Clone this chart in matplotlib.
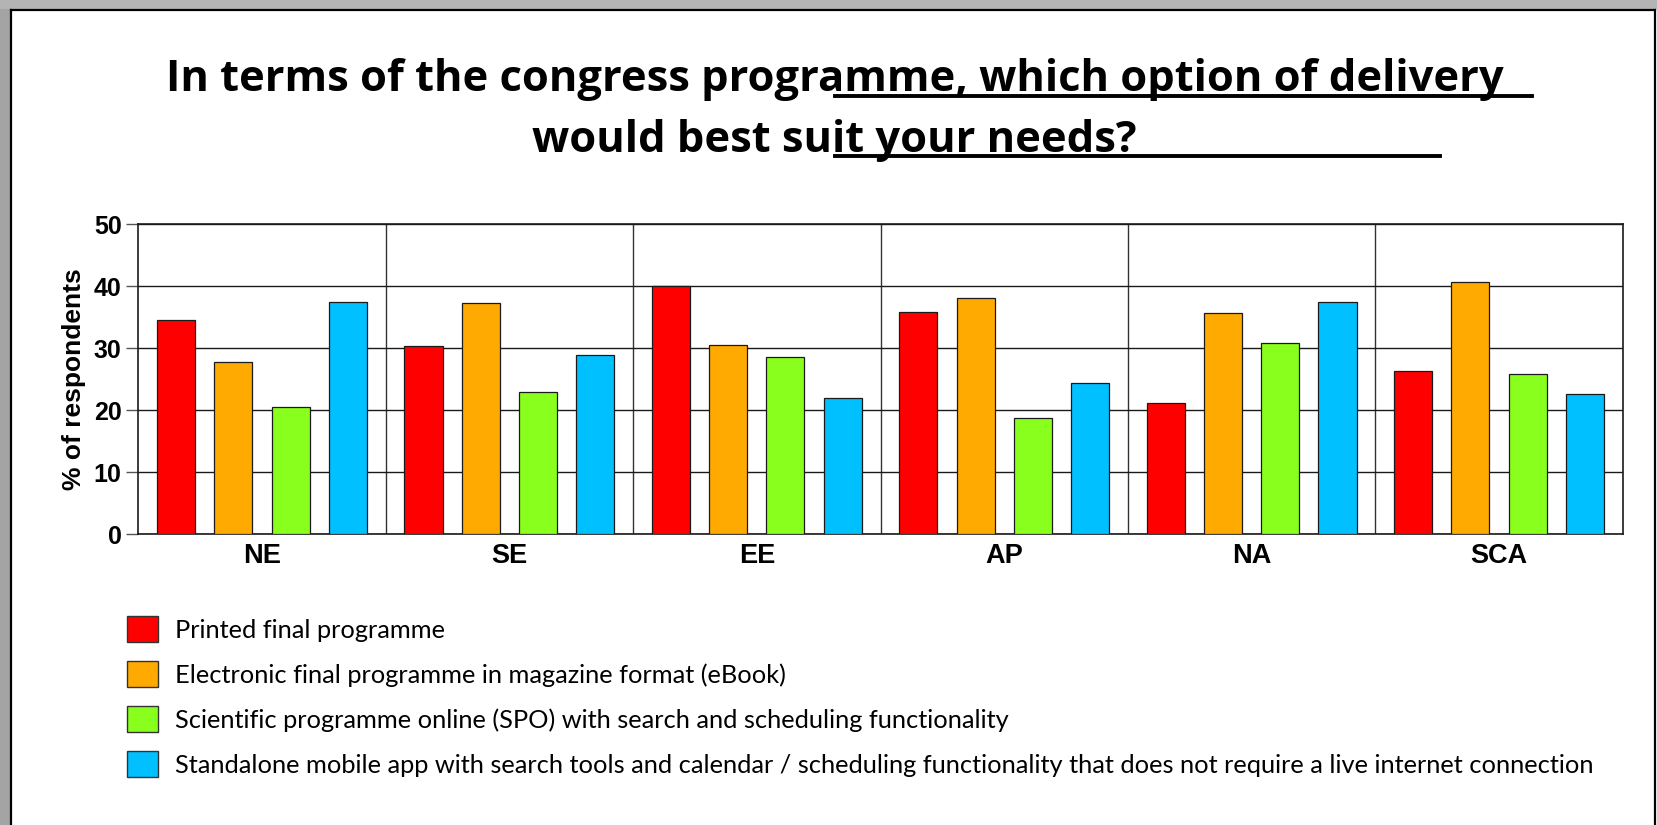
import matplotlib
matplotlib.use("Agg")
import matplotlib.pyplot as plt
import numpy as np
from matplotlib.lines import Line2D
from matplotlib.patches import Patch, Rectangle
from matplotlib.font_manager import FontProperties

# survey data: share of respondents per region and delivery option
regions = ['NE', 'SE', 'EE', 'AP', 'NA', 'SCA']
printed = [34.5, 30.3, 40.0, 35.9, 21.1, 26.3]
ebook = [27.7, 37.2, 30.5, 38.0, 35.6, 40.6]
spo_online = [20.5, 22.9, 28.5, 18.7, 30.9, 25.9]
mobile_app = [37.5, 28.9, 21.9, 24.3, 37.5, 22.6]

series_labels = [
    'Printed final programme',
    'Electronic final programme in magazine format (eBook)',
    'Scientific programme online (SPO) with search and scheduling functionality',
    'Standalone mobile app with search tools and calendar / scheduling functionality that does not require a live internet connection',
]
colors = ['#FF0000', '#FFAA00', '#89FF1D', '#00C0FF']

W, H = 1657, 825
fig = plt.figure(figsize=(W / 100, H / 100), dpi=100)
fig.patch.set_facecolor('white')


def fx(px):
    return px / W


def fy(py):
    return 1 - py / H


# window-like frame: grey bands left/top, black edge lines
fig.add_artist(Rectangle((0, 0), fx(9.5), 1, transform=fig.transFigure, color='#a4a4a4', lw=0))
fig.add_artist(Rectangle((0, fy(9)), 1, 9 / H, transform=fig.transFigure, color='#b4b4b4', lw=0))
fig.add_artist(Line2D([fx(10.5), fx(10.5)], [0, fy(10)], transform=fig.transFigure, color='black', lw=1.6))
fig.add_artist(Line2D([fx(10.5), fx(1655)], [fy(10), fy(10)], transform=fig.transFigure, color='black', lw=1.6))
fig.add_artist(Line2D([fx(1655), fx(1655)], [0, fy(10)], transform=fig.transFigure, color='black', lw=1.6))

# title, two lines with the offset underline
title_font = dict(fontsize=31.3, fontweight='bold', family='Open Sans', ha='center', va='baseline')
fig.text(fx(835), fy(91), 'In terms of the congress programme, which option of delivery', **title_font)
fig.text(fx(834), fy(151.5), 'would best suit your needs?', **title_font)
fig.add_artist(Line2D([fx(835), fx(1532)], [fy(96), fy(96)], transform=fig.transFigure, color='black', lw=2.8))
fig.add_artist(Line2D([fx(835), fx(1440)], [fy(156), fy(156)], transform=fig.transFigure, color='black', lw=2.8))

ax = fig.add_axes([fx(138.3), fy(534.3), fx(1622.7 - 138.3), (534.3 - 224) / H])

x = np.arange(len(regions))
bar_w = 0.154
step = 0.2316
for i, (vals, c) in enumerate(zip([printed, ebook, spo_online, mobile_app], colors)):
    ax.bar(x + (i - 1.5) * step, vals, bar_w, color=c, edgecolor='#1a1a1a', linewidth=0.9,
           zorder=3, label=series_labels[i])

ax.set_xlim(-0.5, len(regions) - 0.5)
ax.set_ylim(0, 50)
ax.set_yticks(range(0, 51, 10))
ax.set_xticks(x)
ax.set_xticklabels(regions)
ax.set_xticks(np.arange(0.5, len(regions) - 0.5, 1), minor=True)

ax.yaxis.grid(True, color='#1a1a1a', lw=1.0, zorder=0)
ax.xaxis.grid(True, which='minor', color='#333333', lw=1.0, zorder=0)
ax.set_axisbelow(True)

for s in ax.spines.values():
    s.set_color('#1a1a1a')
    s.set_linewidth(1.2)

ax.tick_params(axis='y', which='major', direction='out', length=9, width=1, color='#555555', pad=3)
ax.tick_params(axis='x', which='both', length=0, pad=6)
for lab in ax.get_yticklabels():
    lab.set_fontproperties(FontProperties(family='Liberation Sans', weight='bold', size=18))
for lab in ax.get_xticklabels():
    lab.set_fontproperties(FontProperties(family='Liberation Sans', weight='bold', size=19.5))

ax.set_ylabel('% of respondents', fontsize=19, fontweight='bold', family='Liberation Sans')
ax.yaxis.set_label_coords((86 - 138.3) / (1622.7 - 138.3), 0.5)

handles = [Patch(facecolor=c, edgecolor='#333333', linewidth=1.0) for c in colors]
fig.legend(handles, series_labels, loc='upper left', bbox_to_anchor=(fx(127), fy(616)),
           frameon=False, prop={'family': 'Lato', 'size': 18.3},
           handlelength=1.2, handleheight=1.2, handletextpad=0.7,
           labelspacing=0.75, borderpad=0, borderaxespad=0)

fig.savefig('out.png', dpi=100, facecolor='white')
